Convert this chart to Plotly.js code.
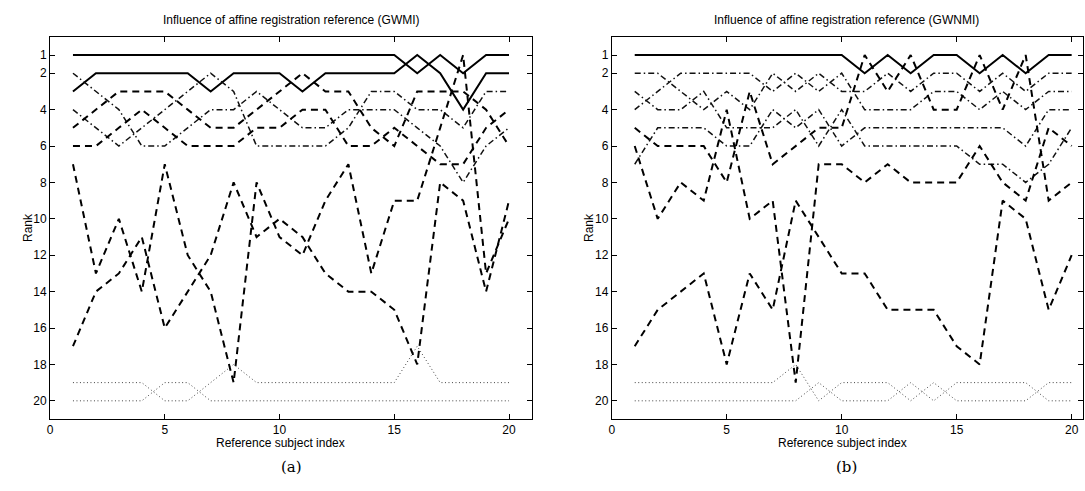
<!DOCTYPE html>
<html><head><meta charset="utf-8">
<script src="https://cdn.plot.ly/plotly-3.0.1.min.js"></script>
<style>body{margin:0;background:#fff}#c{width:1085px;height:491px}</style>
</head><body><div id="c"></div>
<script>
const subjects = [1,2,3,4,5,6,7,8,9,10,11,12,13,14,15,16,17,18,19,20];
const rankTicks = [1,2,4,6,8,10,12,14,16,18,20];
const subjectTicks = [0,5,10,15,20];

// Panel (a) GWMI
const a_solid1   = [1,1,1,1,1,1,1,1,1,1,1,1,1,1,1,2,1,2,1,1];
const a_solid2   = [3,2,2,2,2,2,3,2,2,2,3,2,2,2,2,1,2,4,2,2];
const a_dashdot1 = [2,3,4,6,6,5,4,4,3,4,5,5,4,4,4,5,6,8,6,5];
const a_dashdot2 = [4,5,6,5,4,3,2,3,6,6,6,6,5,3,3,4,4,5,3,3];
const a_dash1    = [5,4,3,3,3,4,5,5,4,3,2,3,3,5,6,3,3,3,4,6];
const a_dash2    = [6,6,5,4,5,6,6,6,5,5,4,4,6,6,5,6,7,7,5,4];
const a_dash3    = [7,13,10,14,7,12,14,19,8,11,12,9,7,13,9,9,5,1,13,10];
const a_dash4    = [17,14,13,11,16,14,12,8,11,10,11,13,14,14,15,18,8,9,14,9];
const a_dot1     = [19,19,19,19,20,20,19,18,19,19,19,19,19,19,19,17,19,19,19,19];
const a_dot2     = [20,20,20,20,19,19,20,20,20,20,20,20,20,20,20,20,20,20,20,20];

// Panel (b) GWNMI
const b_solid1   = [1,1,1,1,1,1,1,1,1,1,2,1,2,1,1,2,1,2,1,1];
const b_dashdot1 = [2,2,3,4,3,4,2,3,2,3,3,2,3,2,2,3,2,3,2,2];
const b_dashdot2 = [4,3,2,2,2,2,3,2,3,2,4,4,4,3,3,4,3,4,3,3];
const b_dashdot3 = [3,4,4,3,5,5,5,4,6,4,6,6,6,6,6,7,7,8,7,5];
const b_dashdot4 = [7,5,5,5,6,6,4,5,4,6,5,5,5,5,5,5,5,6,4,4];
const b_dash1    = [5,6,6,6,8,3,7,6,5,5,1,3,1,4,4,1,4,1,9,8];
const b_dash2    = [6,10,8,9,4,10,9,19,7,7,8,7,8,8,8,6,8,9,5,6];
const b_dash3    = [17,15,14,13,18,13,15,9,11,13,13,15,15,15,17,18,9,10,15,12];
const b_dot1     = [19,19,19,19,19,19,19,18,20,19,19,19,20,19,20,20,20,20,19,19];
const b_dot2     = [20,20,20,20,20,20,20,20,19,20,20,20,19,20,19,19,19,19,20,20];

const ST = {
  solid:   {color:'#000', width:2, dash:'solid'},
  dash:    {color:'#000', width:2, dash:'7px,5px'},
  dashdot: {color:'#111', width:1.5, dash:'6px,3px,1.5px,3px'},
  dot:     {color:'#444', width:1, dash:'1px,2.5px'}
};

const seriesA = [[a_solid1,'solid'],[a_solid2,'solid'],[a_dashdot1,'dashdot'],[a_dashdot2,'dashdot'],
  [a_dash1,'dash'],[a_dash2,'dash'],[a_dash3,'dash'],[a_dash4,'dash'],[a_dot1,'dot'],[a_dot2,'dot']];
const seriesB = [[b_solid1,'solid'],[b_dashdot1,'dashdot'],[b_dashdot2,'dashdot'],[b_dashdot3,'dashdot'],
  [b_dashdot4,'dashdot'],[b_dash1,'dash'],[b_dash2,'dash'],[b_dash3,'dash'],[b_dot1,'dot'],[b_dot2,'dot']];

const traces = [];
seriesA.forEach(([y,s]) => traces.push({x:subjects, y:y, type:'scatter', mode:'lines', line:ST[s], xaxis:'x', yaxis:'y', showlegend:false, hoverinfo:'skip'}));
seriesB.forEach(([y,s]) => traces.push({x:subjects, y:y, type:'scatter', mode:'lines', line:ST[s], xaxis:'x2', yaxis:'y2', showlegend:false, hoverinfo:'skip'}));

const font = {family:'Liberation Sans, Arial, sans-serif', size:12, color:'#000'};
function xax(dom, maxv){
  return {domain:dom, range:[0,maxv], tickvals:subjectTicks, ticks:'inside', ticklen:5, tickcolor:'#000',
    showline:true, linecolor:'#000', linewidth:1, mirror:'ticks', showgrid:false, zeroline:false,
    tickfont:font};
}
function yax(anchor){
  return {domain:[0.1466,0.9250], range:[21,0], tickvals:rankTicks, ticks:'inside', ticklen:5, tickcolor:'#000',
    showline:true, linecolor:'#000', linewidth:1, mirror:'ticks', showgrid:false, zeroline:false,
    tickfont:font, anchor:anchor};
}
function note(text, px, py, f, angle){
  return {text:text, xref:'paper', yref:'paper', x:px/1085, y:(491-py)/491, xanchor:'center', yanchor:'middle',
    showarrow:false, font:f, textangle:angle||0};
}
const serif = {family:'DejaVu Serif, serif', size:15, color:'#000'};
const layout = {
  width:1085, height:491, margin:{l:0,r:0,t:0,b:0}, paper_bgcolor:'#fff', plot_bgcolor:'#fff', font:font,
  xaxis: Object.assign(xax([0.0461,0.4903],21), {anchor:'y'}),
  yaxis: yax('x'),
  xaxis2: Object.assign(xax([0.5638,0.9983],20.5), {anchor:'y2'}),
  yaxis2: yax('x2'),
  annotations: [
    note('Influence of affine registration reference (GWMI)', 291, 20, font),
    note('Influence of affine registration reference (GWNMI)', 846, 20, font),
    note('Reference subject index', 280, 443, font),
    note('Reference subject index', 842, 443, font),
    note('Rank', 28, 228, font, -90),
    note('Rank', 589, 228, font, -90),
    note('(a)', 291, 467, serif),
    note('(b)', 846, 467, serif)
  ]
};
Plotly.newPlot('c', traces, layout, {staticPlot:true, displayModeBar:false});
</script>
</body></html>
